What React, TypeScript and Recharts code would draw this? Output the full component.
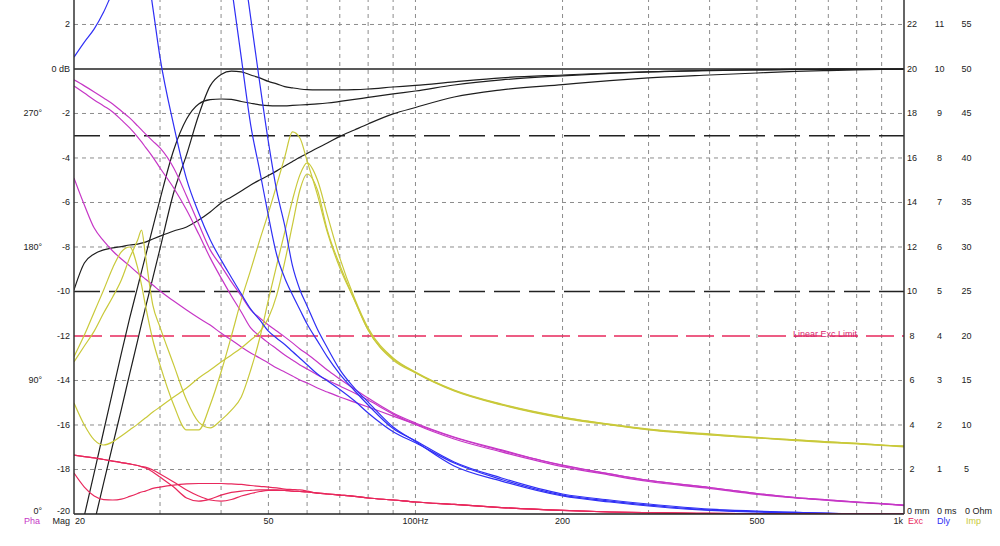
import { LineChart, Line, XAxis, YAxis, ReferenceLine } from "recharts";

// frequency points (Hz)
const freqs = [20, 21, 22, 23, 24, 25, 26, 27, 27.5, 28, 29, 30, 32, 34, 36, 38, 40, 42, 44, 46, 48, 50, 52, 54, 56, 58, 60, 63, 66, 70, 75, 80, 90, 100, 120, 150, 200, 250, 300, 400, 500, 600, 700, 800, 900, 1000];

// magnitude (dB)
const magHi = [-25, -22.3, -20.4, -18.6, -16.9, -15.3, -13.7, -12.2, -11.44, -10.74, -9.39, -8.07, -5.55, -3.85, -2.07, -0.76, -0.25, -0.1, -0.13, -0.27, -0.4, -0.56, -0.67, -0.79, -0.85, -0.9, -0.93, -0.94, -0.94, -0.94, -0.93, -0.9, -0.81, -0.74, -0.58, -0.4, -0.27, -0.18, -0.13, -0.06, -0.04, -0.02, -0.01, 0, 0, 0];
const magMid = [-22.1, -20.07, -18.14, -16.27, -14.49, -12.78, -11.2, -9.79, -9.1, -8.43, -7.12, -5.86, -3.64, -2.25, -1.57, -1.38, -1.35, -1.37, -1.46, -1.54, -1.61, -1.65, -1.66, -1.66, -1.64, -1.62, -1.6, -1.57, -1.53, -1.46, -1.37, -1.28, -1.12, -0.99, -0.72, -0.49, -0.31, -0.2, -0.13, -0.07, -0.04, -0.02, -0.01, 0, 0, 0];
const magLow = [-9.93, -8.72, -8.31, -8.13, -8.04, -7.98, -7.91, -7.87, -7.83, -7.78, -7.64, -7.51, -7.28, -7.1, -6.79, -6.43, -6.02, -5.75, -5.48, -5.21, -4.99, -4.79, -4.58, -4.36, -4.16, -3.97, -3.8, -3.55, -3.33, -3.03, -2.74, -2.47, -2.02, -1.73, -1.26, -0.94, -0.7, -0.52, -0.4, -0.27, -0.18, -0.11, -0.07, -0.04, -0.02, -0.01];

// group delay (plotted on the dB scale)
const dlyA = [0.53, 1.21, 1.8, 2.56, 3.46, 4.2, 5.1, 5.35, 5.2, 4.9, 2.76, 0.52, -2.53, -4.95, -6.47, -7.67, -8.58, -9.37, -10.11, -10.79, -11.28, -11.78, -12.1, -12.38, -12.7, -13.0, -13.29, -13.71, -14.01, -14.4, -14.91, -15.46, -16.3, -16.8, -17.71, -18.45, -19.15, -19.42, -19.6, -19.82, -19.9, -19.93, -19.96, -20, -20, -20];
const dlyB = [null, null, null, null, null, null, null, null, null, null, null, null, null, null, null, null, 7.1, 3.73, 0.51, -2.52, -4.58, -6.6, -8.36, -9.39, -10.15, -10.82, -11.46, -12.22, -12.94, -13.71, -14.45, -15.1, -16.16, -16.71, -17.66, -18.38, -19.1, -19.37, -19.55, -19.78, -19.87, -19.93, -19.97, -19.99, -20, -20];
const dlyC = [null, null, null, null, null, null, null, null, null, null, null, null, null, null, null, null, null, 8.5, 5.35, 2.3, -0.63, -3.28, -5.48, -7.04, -8.84, -9.92, -10.65, -11.7, -12.53, -13.51, -14.34, -14.97, -16.09, -16.74, -17.84, -18.52, -19.19, -19.46, -19.64, -19.84, -19.91, -19.96, -20, -20, -20, -20];

// phase
const phaA = [-0.49, -0.76, -1.03, -1.3, -1.57, -1.89, -2.2, -2.56, -2.74, -2.92, -3.24, -3.55, -4.45, -5.71, -6.97, -8.13, -8.85, -9.57, -10.2, -10.83, -11.19, -11.51, -11.78, -12.04, -12.31, -12.58, -12.81, -13.17, -13.53, -13.93, -14.38, -14.79, -15.46, -15.91, -16.54, -17.12, -17.82, -18.2, -18.49, -18.81, -19.08, -19.26, -19.37, -19.46, -19.53, -19.6];
const phaB = [-0.76, -1.08, -1.39, -1.66, -1.93, -2.29, -2.65, -3.06, -3.28, -3.51, -3.96, -4.45, -5.35, -6.34, -7.42, -8.49, -9.39, -10.2, -10.92, -11.64, -12.0, -12.31, -12.58, -12.85, -13.08, -13.3, -13.48, -13.75, -13.98, -14.25, -14.56, -14.88, -15.51, -15.98, -16.63, -17.21, -17.87, -18.25, -18.54, -18.85, -19.12, -19.28, -19.39, -19.48, -19.55, -19.62];
const phaC = [-4.9, -6.11, -7.15, -7.73, -8.18, -8.54, -8.85, -9.17, -9.3, -9.44, -9.71, -9.98, -10.43, -10.83, -11.19, -11.51, -11.87, -12.18, -12.49, -12.76, -12.99, -13.21, -13.44, -13.62, -13.8, -13.98, -14.11, -14.34, -14.52, -14.74, -14.97, -15.19, -15.6, -15.96, -16.56, -17.15, -17.8, -18.2, -18.49, -18.81, -19.08, -19.26, -19.37, -19.46, -19.53, -19.6];

// impedance
const impA = [-12.93, -11.96, -10.92, -9.93, -8.94, -8.22, -8.0, -8.94, -9.71, -10.61, -12.18, -13.3, -15.1, -16.22, -16.22, -15.1, -13.62, -12.0, -10.38, -9.03, -7.69, -6.47, -5.21, -3.96, -2.83, -3.1, -4.13, -5.66, -7.33, -8.94, -10.38, -11.73, -13.08, -13.66, -14.47, -15.1, -15.69, -16.0, -16.22, -16.45, -16.58, -16.7, -16.79, -16.85, -16.92, -16.98];
const impB = [-13.16, -12.45, -11.78, -10.97, -10.25, -9.48, -8.49, -7.69, -7.24, -8.36, -10.61, -11.6, -13.3, -14.88, -15.87, -16.13, -15.78, -15.33, -14.74, -13.53, -12.09, -10.38, -8.81, -7.33, -5.89, -4.76, -4.22, -4.99, -6.56, -8.49, -10.29, -11.64, -12.99, -13.62, -14.43, -15.06, -15.64, -15.96, -16.18, -16.4, -16.56, -16.67, -16.76, -16.83, -16.9, -16.94];
const impC = [-15.01, -16.0, -16.67, -16.9, -16.76, -16.49, -16.22, -15.96, -15.82, -15.69, -15.42, -15.19, -14.74, -14.34, -13.89, -13.53, -13.17, -12.85, -12.54, -12.18, -11.82, -11.19, -10.16, -8.67, -7.01, -5.44, -4.72, -5.44, -7.24, -8.81, -10.38, -11.73, -13.03, -13.64, -14.45, -15.08, -15.66, -15.98, -16.2, -16.43, -16.58, -16.67, -16.76, -16.83, -16.9, -16.96];

// cone excursion
const excA = [-17.35, -17.42, -17.48, -17.55, -17.62, -17.69, -17.75, -17.82, -17.87, -17.93, -18.11, -18.34, -18.79, -19.28, -19.42, -19.33, -19.15, -19.03, -18.97, -18.94, -18.92, -18.92, -18.92, -18.94, -18.97, -18.99, -19.01, -19.06, -19.1, -19.15, -19.21, -19.28, -19.37, -19.46, -19.57, -19.71, -19.84, -19.91, -19.94, -19.97, -19.98, -19.99, -20, -20, -20, -20];
const excB = [-18.16, -18.79, -19.19, -19.35, -19.37, -19.33, -19.21, -19.08, -19.01, -18.97, -18.85, -18.79, -18.7, -18.65, -18.63, -18.63, -18.63, -18.65, -18.67, -18.72, -18.76, -18.79, -18.83, -18.88, -18.9, -18.92, -18.97, -19.06, -19.1, -19.15, -19.21, -19.28, -19.37, -19.46, -19.57, -19.71, -19.84, -19.91, -19.94, -19.97, -19.98, -19.99, -20, -20, -20, -20];
const excC = [-17.35, -17.42, -17.48, -17.55, -17.62, -17.69, -17.75, -17.82, -17.87, -17.89, -18.02, -18.2, -18.56, -18.92, -19.19, -19.37, -19.42, -19.35, -19.19, -19.08, -18.99, -18.94, -18.94, -18.94, -18.97, -18.99, -19.01, -19.06, -19.1, -19.15, -19.21, -19.28, -19.37, -19.46, -19.57, -19.71, -19.84, -19.91, -19.94, -19.97, -19.98, -19.99, -20, -20, -20, -20];

// axes
const dbTicks = [-20, -18, -16, -14, -12, -10, -8, -6, -4, -2, 0, 2];
const phaseTicks = [-20, -14, -8, -2];
const phaseLabels = ["0°", "90°", "180°", "270°"];
const freqTicks = [20, 50, 100, 200, 500, 1000];
const freqLabels = ["20", "50", "100Hz", "200", "500", "1k"];
const gridFreqs = [30, 40, 50, 60, 70, 80, 90, 100, 200, 300, 400, 500, 600, 700, 800, 900];
const gridDb = [2, -2, -4, -6, -8, -14, -16, -18];

const BLACK = "#1e1e1e";
const BLUE = "#2f2ff5";
const MAGENTA = "#c636c6";
const YELLOW = "#c9c93a";
const RED = "#e8285c";
const FONT = '"Liberation Sans", Arial, sans-serif';

const series = [
  { key: "magHi", data: magHi, color: BLACK },
  { key: "magMid", data: magMid, color: BLACK },
  { key: "magLow", data: magLow, color: BLACK },
  { key: "phaA", data: phaA, color: MAGENTA },
  { key: "phaB", data: phaB, color: MAGENTA },
  { key: "phaC", data: phaC, color: MAGENTA },
  { key: "impA", data: impA, color: YELLOW },
  { key: "impB", data: impB, color: YELLOW },
  { key: "impC", data: impC, color: YELLOW },
  { key: "dlyA", data: dlyA, color: BLUE },
  { key: "dlyB", data: dlyB, color: BLUE },
  { key: "dlyC", data: dlyC, color: BLUE },
  { key: "excA", data: excA, color: RED },
  { key: "excB", data: excB, color: RED },
  { key: "excC", data: excC, color: RED },
];

const rows = freqs.map((f, i) => {
  const row: Record<string, number | null> = { f };
  series.forEach((s) => {
    row[s.key] = s.data[i];
  });
  return row;
});

function LeftTick(props: any) {
  const { x, y, payload } = props;
  const v = payload.value;
  const pi = phaseTicks.indexOf(v);
  // bottom row sits a little higher so it clears the frequency labels
  const dy = v === -20 ? 0 : 3;
  return (
    <g fontFamily={FONT} fontSize={9} fill="#222">
      <text x={x - 4} y={y} dy={dy} textAnchor="end">{v === 0 ? "0 dB" : String(v)}</text>
      {pi >= 0 && (
        <text x={x - 32} y={y} dy={dy} textAnchor="end">{phaseLabels[pi]}</text>
      )}
    </g>
  );
}

function RightTick(props: any) {
  const { x, y, payload } = props;
  const v = payload.value;
  const mm = v + 20;
  if (v === -20) {
    return (
      <g fontFamily={FONT} fontSize={9} fill="#222">
        <text x={x + 3} y={y} dy={0}>0 mm</text>
        <text x={x + 33} y={y} dy={0}>0 ms</text>
        <text x={x + 61} y={y} dy={0}>0 Ohm</text>
      </g>
    );
  }
  return (
    <g fontFamily={FONT} fontSize={9} fill="#222" textAnchor="middle">
      <text x={x + 8} y={y} dy={3}>{mm}</text>
      <text x={x + 35.5} y={y} dy={3}>{mm / 2}</text>
      <text x={x + 62.5} y={y} dy={3}>{mm * 2.5}</text>
    </g>
  );
}

function FreqTick(props: any) {
  const { x, y, payload } = props;
  const v = payload.value;
  const label = freqLabels[freqTicks.indexOf(v)];
  const ty = y + 10;
  if (v === 20) {
    return (
      <g fontFamily={FONT} fontSize={9} fill="#222">
        <text x={x - 34} y={ty} textAnchor="end" fill={MAGENTA}>Pha</text>
        <text x={x - 4} y={ty} textAnchor="end">Mag</text>
        <text x={x + 1} y={ty}>{label}</text>
      </g>
    );
  }
  if (v === 1000) {
    return (
      <g fontFamily={FONT} fontSize={9} fill="#222">
        <text x={x - 1} y={ty} textAnchor="end">{label}</text>
        <text x={x + 4} y={ty} fill={RED}>Exc</text>
        <text x={x + 33} y={ty} fill={BLUE}>Dly</text>
        <text x={x + 62} y={ty} fill={YELLOW}>Imp</text>
      </g>
    );
  }
  return (
    <text x={x} y={ty} textAnchor="middle" fontFamily={FONT} fontSize={9} fill="#222">{label}</text>
  );
}

export default function App() {
  return (
    <div style={{ position: "absolute", left: 0, top: 0, width: 1000, height: 546, background: "#fff" }}>
      <LineChart width={1000} height={546} data={rows} margin={{ top: 0, right: 0, bottom: 0, left: 0 }}>
        <XAxis
          dataKey="f"
          type="number"
          scale="log"
          domain={[20, 1000]}
          allowDataOverflow
          ticks={freqTicks}
          interval={0}
          height={32}
          tickSize={0}
          tickMargin={0}
          tickLine={false}
          tick={<FreqTick />}
          axisLine={{ stroke: "#222", strokeWidth: 1.5 }}
        />
        <YAxis
          yAxisId="l"
          type="number"
          domain={[-20, 3.1]}
          allowDataOverflow
          ticks={dbTicks}
          interval={0}
          width={74}
          tickSize={0}
          tickMargin={0}
          tickLine={false}
          tick={<LeftTick />}
          axisLine={{ stroke: "#333", strokeWidth: 1.5 }}
        />
        <YAxis
          yAxisId="r"
          orientation="right"
          type="number"
          domain={[-20, 3.1]}
          allowDataOverflow
          ticks={dbTicks}
          interval={0}
          width={96}
          tickSize={0}
          tickMargin={0}
          tickLine={false}
          tick={<RightTick />}
          axisLine={{ stroke: "#333", strokeWidth: 1.5 }}
        />
        {gridFreqs.map((f) => (
          <ReferenceLine key={"gx" + f} yAxisId="l" x={f} stroke="#8c8c8c" strokeDasharray="4 4" />
        ))}
        {gridDb.map((v) => (
          <ReferenceLine key={"gy" + v} yAxisId="l" y={v} stroke="#8c8c8c" strokeDasharray="4 4" />
        ))}
        <ReferenceLine yAxisId="l" y={0} stroke="#222" strokeWidth={1.5} />
        <ReferenceLine yAxisId="l" y={-3} stroke="#222" strokeWidth={1.3} strokeDasharray="26 9" />
        <ReferenceLine yAxisId="l" y={-10} stroke="#222" strokeWidth={1.3} strokeDasharray="26 9" />
        <ReferenceLine
          yAxisId="l"
          y={-12}
          stroke={RED}
          strokeWidth={1.3}
          strokeDasharray="28 8"
          label={{ value: "Linear Exc Limit", position: "insideRight", offset: 47, dy: -2, fill: "#d6246e", fontSize: 9, fontFamily: FONT }}
        />
        {series.map((s) => (
          <Line
            key={s.key}
            yAxisId="l"
            dataKey={s.key}
            type="monotone"
            stroke={s.color}
            strokeWidth={1.2}
            dot={false}
            activeDot={false}
            isAnimationActive={false}
          />
        ))}
      </LineChart>
    </div>
  );
}
